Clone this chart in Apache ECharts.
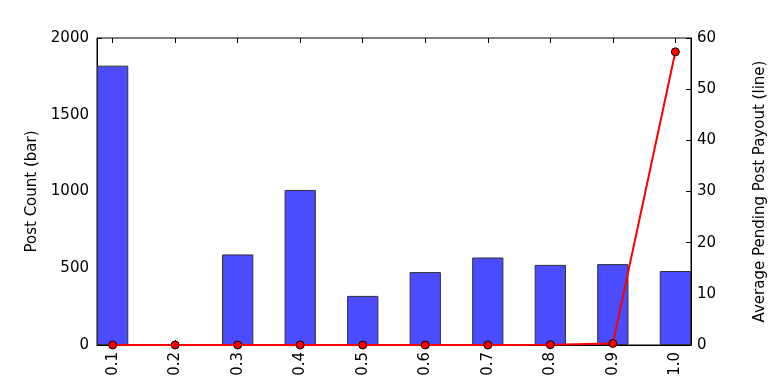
<!DOCTYPE html>
<html>
<head>
<meta charset="utf-8">
<script src="https://cdn.jsdelivr.net/npm/echarts@6/dist/echarts.min.js"></script>
<style>
html,body{margin:0;padding:0;background:#fff;}
#c{width:768px;height:384px;}
</style>
</head>
<body>
<div id="c"></div>
<script>
const categories = ['0.1','0.2','0.3','0.4','0.5','0.6','0.7','0.8','0.9','1.0'];
const postCount = [1820, 0, 590, 1010, 320, 475, 570, 522, 527, 482];
const avgPayout = [0, 0, 0, 0, 0, 0, 0, 0.05, 0.3, 57.3];

const W = 768, H = 384;
const G = {left: 97, right: 77, top: 38, bottom: 39};
const plotW = W - G.left - G.right;
const pad = 0.25;
const n = categories.length;
const unit = plotW / (n - 1 + 2 * pad);
const barW = unit * 0.5;
const FONT = 'DejaVu Sans';
const tickStyle = () => ({show: true, inside: true, length: 5, lineStyle: {color: '#000', width: 1}});
const lineStyle = () => ({show: true, onZero: false, lineStyle: {color: '#000', width: 1}});

const chart = echarts.init(document.getElementById('c'), null, {renderer: 'canvas'});
chart.setOption({
  animation: false,
  grid: [
    {left: G.left, right: G.right, top: G.top, bottom: G.bottom, show: true,
     borderColor: '#000', borderWidth: 1, outerBoundsMode: 'none', containLabel: false},
    {left: G.left + pad * unit, right: G.right + pad * unit, top: G.top, bottom: G.bottom,
     show: false, outerBoundsMode: 'none', containLabel: false}
  ],
  xAxis: [
    {gridIndex: 0, type: 'value', min: -pad, max: n - 1 + pad, position: 'bottom',
     axisLine: lineStyle(), axisTick: {show: false},
     axisLabel: {show: false}, splitLine: {show: false}},
    {gridIndex: 1, type: 'value', min: 0, max: n - 1, interval: 1, position: 'bottom',
     axisLine: {show: false, onZero: false}, axisTick: tickStyle(), splitLine: {show: false},
     axisLabel: {show: true, rotate: 90, margin: 7, fontFamily: FONT, fontSize: 15, color: '#000',
       formatter: v => categories[Math.round(v)]}},
    {gridIndex: 1, type: 'value', min: 0, max: n - 1, interval: 1, position: 'top',
     axisLine: {show: false, onZero: false}, axisTick: tickStyle(), splitLine: {show: false},
     axisLabel: {show: false}}
  ],
  yAxis: [
    {
      gridIndex: 0, type: 'value', min: 0, max: 2000, interval: 500, position: 'left',
      name: 'Post Count (bar)', nameLocation: 'middle', nameGap: 48,
      nameTextStyle: {fontFamily: FONT, fontSize: 15, color: '#000'},
      axisLine: lineStyle(),
      axisTick: tickStyle(),
      axisLabel: {fontFamily: FONT, fontSize: 15, color: '#000', margin: 8, formatter: v => String(v)},
      splitLine: {show: false}
    },
    {
      gridIndex: 0, type: 'value', min: 0, max: 60, interval: 10, position: 'right',
      name: 'Average Pending Post Payout (line)', nameLocation: 'middle', nameGap: 62,
      nameTextStyle: {fontFamily: FONT, fontSize: 15, color: '#000'},
      axisLine: lineStyle(),
      axisTick: tickStyle(),
      axisLabel: {fontFamily: FONT, fontSize: 15, color: '#000', margin: 6, formatter: v => String(v)},
      splitLine: {show: false}
    },
    {gridIndex: 1, type: 'value', min: 0, max: 1, show: false}
  ],
  series: [
    {
      type: 'bar', xAxisIndex: 0, yAxisIndex: 0,
      barWidth: barW,
      data: postCount.map((v, i) => [i, v]),
      itemStyle: {color: '#4b4bff', borderColor: '#333', borderWidth: 1},
      z: 2
    },
    {
      type: 'line', xAxisIndex: 0, yAxisIndex: 1,
      data: avgPayout.map((v, i) => [i, v]),
      lineStyle: {color: '#ff0000', width: 2},
      symbol: 'circle', symbolSize: 8,
      itemStyle: {color: '#ff0000', borderColor: '#000', borderWidth: 1},
      z: 3
    }
  ]
});
</script>
</body>
</html>
